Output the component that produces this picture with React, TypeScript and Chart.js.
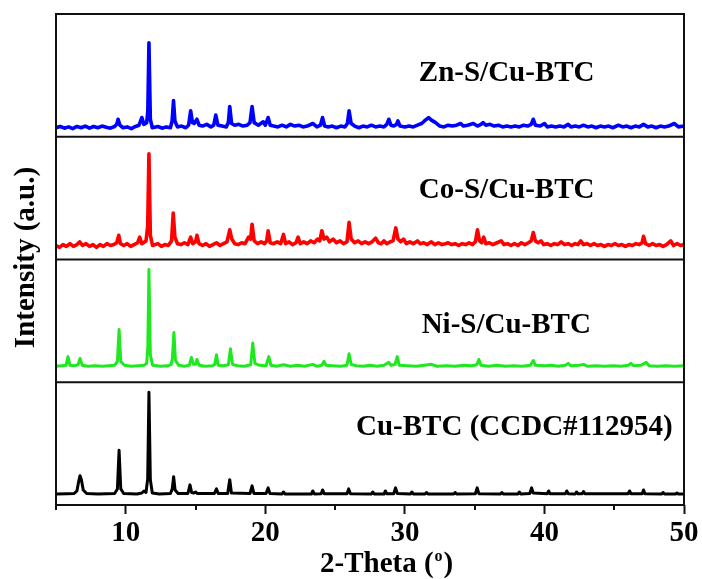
import React, { useEffect, useRef } from 'react';
import { Chart, registerables } from 'chart.js';

Chart.register(...registerables);

// ---- data (2-Theta in degrees, intensity in a.u., baseline = 0 for each pattern) ----
const seriesNames = ['Zn-S/Cu-BTC', 'Co-S/Cu-BTC', 'Ni-S/Cu-BTC', 'Cu-BTC (CCDC#112954)'];
const seriesColors = ['#0000ff', '#ff0000', '#20e820', '#000000'];
const seriesWidths = [3.6, 3.6, 3, 3];
const xMajorTicks = [10, 20, 30, 40, 50];
const xMinorTicks = [5, 15, 25, 35, 45];

const znS: [number, number][] = [
  [5, 0], [5.3, 1.5], [5.6, -0.5], [5.9, 1], [6.2, -1], [6.5, 1.5], [6.8, 0], [7.1, 2], [7.4, -0.5], [7.7, 1.5],
  [8.0, 0], [8.3, 2], [8.6, 0.5], [8.9, -0.5], [9.2, 1.5], [9.35, 4], [9.45, 10], [9.58, 3], [9.8, 0], [10.1, 1],
  [10.4, -1], [10.7, 1.5], [10.95, 3], [11.15, 12], [11.3, 4], [11.5, 6], [11.58, 20], [11.66, 100], [11.76, 10], [11.9, 0],
  [12.3, 1.5], [12.6, -0.5], [12.9, 1], [13.2, 0], [13.32, 8], [13.42, 32], [13.52, 8], [13.7, 1], [14.0, 2], [14.3, 0],
  [14.5, 3], [14.65, 20], [14.78, 6], [14.9, 5], [15.1, 10], [15.25, 3], [15.5, 2], [15.8, 4], [16.1, 1], [16.3, 3],
  [16.45, 15], [16.6, 3], [16.9, 2], [17.2, 1], [17.35, 6], [17.45, 25], [17.58, 5], [17.8, 3], [18.1, 4], [18.4, 2],
  [18.7, 3], [18.9, 6], [19.05, 25], [19.2, 6], [19.5, 3], [19.85, 7], [20.0, 3], [20.2, 12], [20.35, 3], [20.6, 2],
  [20.9, 1], [21.2, 3], [21.5, 1], [21.8, 4], [22.1, 2], [22.4, 3], [22.7, 1], [23.0, 2], [23.4, 5], [23.7, 1],
  [23.95, 3], [24.1, 12], [24.25, 2], [24.5, 1], [24.8, 2], [25.1, 0], [25.4, 2], [25.7, 1], [25.88, 5], [26.0, 20],
  [26.15, 5], [26.4, 2], [26.7, 0], [27.0, 2], [27.3, 1], [27.6, 3], [27.9, 1], [28.2, 2], [28.5, 1], [28.7, 4],
  [28.85, 10], [29.0, 3], [29.2, 2], [29.4, 4], [29.5, 8], [29.65, 2], [30.0, 1], [30.3, 2], [30.6, 1], [30.9, 3],
  [31.2, 5], [31.4, 8], [31.7, 12], [31.9, 9], [32.2, 6], [32.5, 2], [32.8, 1], [33.1, 3], [33.4, 2], [33.7, 3],
  [34.0, 5], [34.2, 2], [34.5, 3], [34.9, 5], [35.2, 2], [35.45, 4], [35.6, 6], [35.8, 3], [36.1, 4], [36.4, 2],
  [36.7, 3], [37.0, 1], [37.3, 2], [37.6, 1], [37.9, 2], [38.2, 1], [38.5, 3], [38.8, 2], [39.05, 4], [39.2, 10],
  [39.35, 3], [39.7, 2], [40.0, 5], [40.2, 1], [40.5, 2], [40.8, 1], [41.1, 2], [41.4, 1], [41.7, 4], [41.9, 1],
  [42.2, 2], [42.5, 1], [42.8, 3], [43.1, 1], [43.4, 2], [43.7, 0], [44.0, 2], [44.3, 1], [44.6, 2], [44.9, 0],
  [45.3, 3], [45.6, 1], [45.9, 2], [46.2, 0], [46.5, 2], [46.8, 1], [47.1, 4], [47.4, 1], [47.7, 2], [48.0, 0],
  [48.3, 2], [48.6, 1], [48.9, 2], [49.3, 5], [49.6, 1], [50, 2],
];

const coS: [number, number][] = [
  [5, 1], [5.25, -1], [5.5, 2], [5.75, 0], [6.0, 3], [6.25, 0], [6.5, 2], [6.7, 5], [6.9, 1], [7.15, 3],
  [7.4, 0], [7.65, 2], [7.9, -1], [8.15, 2], [8.4, 0], [8.65, 3], [8.9, 1], [9.15, 2], [9.35, 4], [9.5, 12],
  [9.62, 3], [9.85, 1], [10.1, 3], [10.35, 0], [10.6, 2], [10.85, 4], [11.0, 10], [11.15, 3], [11.45, 6], [11.57, 22],
  [11.66, 100], [11.76, 12], [11.92, 1], [12.3, 3], [12.55, 0], [12.8, 2], [13.05, 1], [13.28, 6], [13.4, 36], [13.52, 10],
  [13.7, 3], [13.95, 2], [14.2, 4], [14.45, 2], [14.65, 10], [14.8, 3], [15.0, 5], [15.1, 12], [15.25, 3], [15.5, 1],
  [15.75, 3], [16.0, 0], [16.25, 2], [16.5, 4], [16.75, 1], [17.0, 3], [17.25, 5], [17.45, 18], [17.6, 8], [17.8, 3],
  [18.05, 2], [18.3, 4], [18.55, 3], [18.8, 10], [18.95, 8], [19.05, 24], [19.2, 6], [19.45, 3], [19.7, 5], [19.95, 3],
  [20.1, 6], [20.2, 17], [20.35, 4], [20.6, 3], [20.85, 5], [21.1, 3], [21.3, 13], [21.45, 3], [21.7, 5], [21.95, 2],
  [22.2, 4], [22.35, 10], [22.5, 3], [22.75, 5], [23.0, 3], [23.25, 6], [23.5, 4], [23.75, 8], [23.9, 6], [24.05, 17],
  [24.2, 8], [24.4, 10], [24.6, 5], [24.85, 8], [25.1, 4], [25.35, 6], [25.6, 3], [25.85, 5], [26.0, 26], [26.15, 8],
  [26.4, 4], [26.65, 6], [26.9, 3], [27.15, 5], [27.4, 3], [27.65, 5], [27.9, 9], [28.1, 4], [28.3, 3], [28.5, 6],
  [28.7, 3], [28.95, 5], [29.15, 6], [29.35, 20], [29.5, 8], [29.7, 5], [29.9, 8], [30.1, 3], [30.35, 5], [30.6, 3],
  [30.9, 6], [31.1, 3], [31.35, 4], [31.6, 2], [31.9, 5], [32.15, 2], [32.4, 4], [32.65, 2], [32.9, 3], [33.1, 4],
  [33.35, 2], [33.6, 3], [33.85, 1], [34.1, 3], [34.35, 2], [34.6, 4], [34.85, 2], [35.05, 5], [35.2, 18], [35.35, 6],
  [35.5, 4], [35.65, 10], [35.8, 3], [36.05, 4], [36.3, 2], [36.6, 4], [36.9, 6], [37.1, 2], [37.35, 3], [37.6, 1],
  [37.85, 3], [38.1, 1], [38.35, 4], [38.6, 2], [38.85, 4], [39.05, 6], [39.2, 15], [39.35, 6], [39.55, 4], [39.75, 6],
  [39.95, 2], [40.2, 3], [40.45, 1], [40.7, 3], [40.95, 2], [41.2, 5], [41.45, 2], [41.7, 3], [41.95, 1], [42.2, 3],
  [42.4, 2], [42.6, 6], [42.8, 2], [43.05, 3], [43.3, 1], [43.55, 3], [43.8, 1], [44.05, 2], [44.3, 0], [44.55, 2],
  [44.8, 1], [45.05, 3], [45.3, 1], [45.55, 2], [45.8, 0], [46.05, 2], [46.3, 1], [46.55, 3], [46.8, 2], [47.0, 4],
  [47.1, 11], [47.25, 3], [47.5, 1], [47.75, 3], [48.0, 1], [48.25, 2], [48.5, 0], [48.75, 2], [49.05, 6], [49.25, 1],
  [49.5, 3], [49.75, 1], [50, 2],
];

const niS: [number, number][] = [
  [5, 0], [5.4, 0.5], [5.72, 1], [5.86, 10], [6.0, 1], [6.3, 0.5], [6.58, 1.5], [6.72, 8], [6.88, 1], [7.3, 0],
  [7.8, 0.5], [8.3, 0], [8.8, 0.5], [9.2, 1], [9.4, 5], [9.52, 38], [9.64, 5], [9.9, 1], [10.4, 0], [10.9, 0.5],
  [11.3, 1], [11.5, 3], [11.58, 20], [11.66, 100], [11.76, 12], [11.92, 1], [12.5, 0], [13.0, 0.5], [13.25, 2], [13.34, 8],
  [13.45, 35], [13.56, 6], [13.8, 1], [14.2, 0], [14.55, 1], [14.7, 9], [14.85, 2], [15.0, 2], [15.1, 7], [15.25, 1],
  [15.7, 0], [16.2, 0.5], [16.38, 2], [16.5, 12], [16.62, 1], [17.0, 0.5], [17.35, 1.5], [17.5, 18], [17.65, 2], [18.0, 0.5],
  [18.5, 0], [18.95, 1.5], [19.1, 24], [19.25, 3], [19.6, 1], [20.05, 0.5], [20.25, 10], [20.4, 1], [20.8, 0], [21.3, 1.5],
  [21.8, 0], [22.3, 1], [22.8, 0], [23.4, 2], [23.7, 0], [24.05, 1], [24.2, 5], [24.35, 1], [24.8, 0.5], [25.4, 0],
  [25.85, 1], [26.0, 13], [26.15, 2], [26.5, 0.5], [27.0, 0], [27.5, 1], [28.0, 0], [28.5, 1], [28.85, 4], [29.0, 1],
  [29.3, 2], [29.45, 10], [29.6, 1], [30.2, 0.5], [30.8, 0], [31.4, 1], [31.9, 2], [32.3, 0], [33.0, 0.5], [33.6, 0],
  [34.2, 1], [34.8, 0.5], [35.15, 1.5], [35.3, 7], [35.45, 1], [36.0, 0], [36.6, 1], [37.2, 0], [37.8, 0.5], [38.4, 0],
  [39.0, 1], [39.2, 6], [39.35, 1], [40.0, 0.5], [40.5, 1], [41.0, 0], [41.5, 1], [41.7, 3], [41.9, 0.5], [42.5, 1],
  [42.8, 2], [43.1, 0], [43.7, 0.5], [44.3, 0], [44.9, 0.5], [45.5, 0], [46.0, 1], [46.2, 3], [46.4, 0.5], [46.9, 1],
  [47.3, 4], [47.5, 0.5], [48.1, 0], [48.7, 0.5], [49.3, 0], [50, 0.5],
];

const cuBTC: [number, number][] = [
  [5, 0], [5.8, 0.3], [6.3, 0.5], [6.5, 3], [6.62, 12], [6.72, 18], [6.82, 14], [6.95, 4], [7.2, 0.5], [8.0, 0],
  [9.2, 0.5], [9.4, 5], [9.52, 43], [9.64, 5], [9.85, 0.5], [10.8, 0], [11.15, 1], [11.3, 3], [11.45, 1.5], [11.57, 15],
  [11.66, 100], [11.76, 14], [11.9, 1], [12.4, 0], [13.2, 0.5], [13.33, 5], [13.43, 17], [13.53, 4], [13.75, 0.5], [14.45, 0.5],
  [14.6, 9], [14.72, 1.5], [14.88, 1], [15.0, 2], [15.12, 0.5], [16.35, 0.5], [16.5, 5], [16.62, 0.5], [17.3, 0.5], [17.45, 14],
  [17.57, 1], [18.9, 0.5], [19.05, 8], [19.18, 0.5], [20.05, 0.5], [20.2, 6], [20.33, 0.5], [21.2, 0], [21.3, 2], [21.42, 0],
  [23.3, 0], [23.4, 3], [23.52, 0], [24.0, 0.3], [24.1, 4], [24.22, 0.3], [25.85, 0.3], [25.97, 5], [26.1, 0.3], [27.6, 0],
  [27.7, 2], [27.8, 0], [28.5, 0], [28.6, 3], [28.7, 0.3], [29.2, 0.3], [29.33, 6], [29.46, 0.5], [30.4, 0], [30.5, 2],
  [30.6, 0], [31.45, 0], [31.55, 1.5], [31.65, 0], [33.5, 0], [33.6, 1.5], [33.7, 0], [35.05, 0.3], [35.18, 6], [35.3, 0.3],
  [36.85, 0], [36.95, 1.5], [37.05, 0], [38.1, 0], [38.2, 2], [38.3, 0], [38.95, 0.5], [39.08, 6], [39.2, 1], [40.2, 0.3],
  [40.3, 3], [40.4, 0.3], [41.5, 0.3], [41.6, 3], [41.7, 0.3], [42.2, 0], [42.3, 2], [42.4, 0.3], [42.7, 0.3], [42.8, 2.5],
  [42.9, 0.3], [46.0, 0.3], [46.1, 3], [46.2, 0.3], [47.0, 0.3], [47.1, 4], [47.2, 0.3], [48.4, 0], [48.5, 1.5], [48.6, 0],
  [49.4, 0], [49.5, 1], [49.6, 0], [50, 0],
];

const seriesData = [znS, coS, niS, cuBTC];
const axisIds = ['yZn', 'yCo', 'yNi', 'yCu'];

const FONT = '"Liberation Serif", "Times New Roman", serif';

const decorPlugin = {
  id: 'decor',
  afterDatasetsDraw(chart: any) {
    const { ctx, chartArea: a, scales } = chart;
    ctx.save();
    // frame and panel separators
    ctx.strokeStyle = '#111';
    ctx.lineWidth = 2;
    ctx.strokeRect(a.left, a.top, a.right - a.left, a.bottom - a.top);
    ['yCo', 'yNi', 'yCu'].forEach((id) => {
      const s = scales[id];
      ctx.beginPath();
      ctx.moveTo(a.left, s.top);
      ctx.lineTo(a.right, s.top);
      ctx.stroke();
    });
    // minor ticks
    const xs = scales.x;
    ctx.lineWidth = 2;
    ctx.beginPath();
    xMinorTicks.forEach((v) => {
      const px = Math.round(xs.getPixelForValue(v));
      ctx.moveTo(px, a.bottom);
      ctx.lineTo(px, a.bottom + 5);
    });
    ctx.stroke();

    // panel labels
    ctx.fillStyle = '#000';
    ctx.font = `bold 29px ${FONT}`;
    ctx.textAlign = 'left';
    ctx.textBaseline = 'alphabetic';
    const labelX = [31.0, 31.0, 31.2, 26.5];
    const labelDy = [67, 61, 73, 53];
    axisIds.forEach((id, i) => {
      const s = scales[id];
      ctx.fillText(seriesNames[i], xs.getPixelForValue(labelX[i]), s.top + labelDy[i]);
    });

    // y title
    ctx.save();
    ctx.translate(34, (a.top + a.bottom) / 2 - 2);
    ctx.rotate(-Math.PI / 2);
    ctx.textAlign = 'center';
    ctx.fillText('Intensity (a.u.)', 0, 0);
    ctx.restore();

    // x title: 2-Theta (°) with superscript o
    const base = 572;
    let tx = 320;
    const p1 = '2-Theta (';
    ctx.textAlign = 'left';
    ctx.fillText(p1, tx, base);
    tx += ctx.measureText(p1).width + 1;
    ctx.font = `bold 16px ${FONT}`;
    ctx.fillText('o', tx, base - 11);
    tx += ctx.measureText('o').width + 1;
    ctx.font = `bold 29px ${FONT}`;
    ctx.fillText(')', tx, base);
    ctx.restore();
  },
};

const panelRanges = [
  { min: -10.6, max: 134 },
  { min: -14.1, max: 118.5 },
  { min: -16.5, max: 110.3 },
  { min: -10.8, max: 109.8 },
];

export default function App() {
  const ref = useRef<HTMLCanvasElement>(null);

  useEffect(() => {
    if (!ref.current) return;
    const yScales: any = {};
    axisIds.forEach((id, i) => {
      yScales[id] = {
        type: 'linear',
        position: 'left',
        stack: 'panels',
        stackWeight: 1,
        weight: 4 - i,
        offset: false,
        min: panelRanges[i].min,
        max: panelRanges[i].max,
        display: false,
        afterFit: (s: any) => {
          s.width = 0;
        },
      };
    });

    const chart = new Chart(ref.current, {
      type: 'line',
      data: {
        datasets: seriesData.map((d, i) => ({
          label: seriesNames[i],
          data: d.map(([x, y]) => ({ x, y })),
          yAxisID: axisIds[i],
          borderColor: seriesColors[i],
          backgroundColor: seriesColors[i],
          borderWidth: seriesWidths[i],
          pointRadius: 0,
          tension: 0,
          fill: false,
          borderJoinStyle: 'round',
          borderCapStyle: 'round',
        })),
      },
      options: {
        responsive: false,
        devicePixelRatio: 1,
        animation: false,
        layout: { padding: { left: 56, top: 14, right: 18, bottom: 0 } },
        plugins: { legend: { display: false }, tooltip: { enabled: false } },
        scales: {
          x: {
            type: 'linear',
            position: 'bottom',
            min: 5,
            max: 50,
            afterBuildTicks: (s: any) => {
              s.ticks = xMajorTicks.map((v) => ({ value: v }));
            },
            afterFit: (s: any) => {
              s.height = 74;
            },
            ticks: {
              autoSkip: false,
              maxRotation: 0,
              color: '#000',
              padding: 2,
              font: { family: FONT, size: 29, weight: 'bold' },
              callback: (v: any) => String(v),
            },
            grid: {
              drawOnChartArea: false,
              drawTicks: true,
              tickLength: 9,
              tickWidth: 2,
              tickColor: '#111',
            },
            border: { display: false },
          },
          ...yScales,
        },
      } as any,
      plugins: [decorPlugin],
    });
    return () => chart.destroy();
  }, []);

  return (
    <div style={{ position: 'fixed', left: 0, top: 0, width: 702, height: 579, background: '#fff' }}>
      <canvas ref={ref} width={702} height={579} style={{ display: 'block', width: 702, height: 579 }} />
    </div>
  );
}
